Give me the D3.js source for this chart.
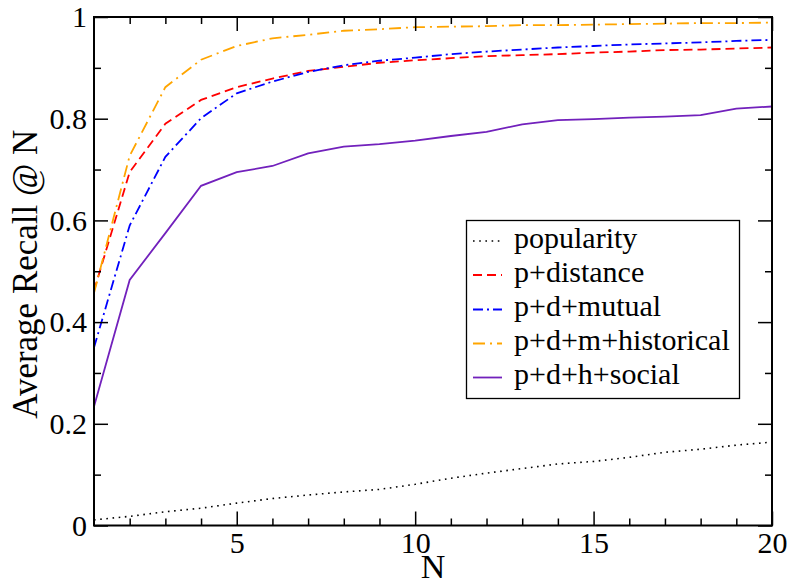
<!DOCTYPE html>
<html>
<head>
<meta charset="utf-8">
<script src="https://cdn.jsdelivr.net/npm/d3@7"></script>
<style>
  html, body { margin: 0; padding: 0; background: #fff; }
  svg { display: block; }
  text { font-family: "Liberation Serif", "Times New Roman", serif; fill: #000; }
</style>
</head>
<body>
<svg id="chart" width="790" height="586"></svg>
<script>
// Recall@N for each recommender variant, N = 1..20
const topN = [1, 2, 3, 4, 5, 6, 7, 8, 9, 10, 11, 12, 13, 14, 15, 16, 17, 18, 19, 20];
const popularity = [0.011, 0.018, 0.027, 0.034, 0.044, 0.053, 0.060, 0.066, 0.071, 0.081,
                    0.093, 0.103, 0.112, 0.121, 0.126, 0.134, 0.144, 0.150, 0.158, 0.164];
const pDistance  = [0.462, 0.695, 0.790, 0.837, 0.862, 0.879, 0.894, 0.902, 0.910, 0.915,
                    0.919, 0.923, 0.925, 0.927, 0.930, 0.932, 0.935, 0.936, 0.938, 0.940];
const pdMutual   = [0.350, 0.590, 0.725, 0.801, 0.850, 0.873, 0.892, 0.905, 0.914, 0.920,
                    0.927, 0.932, 0.936, 0.940, 0.943, 0.946, 0.948, 0.950, 0.953, 0.955];
const pdmHistorical = [0.457, 0.727, 0.862, 0.916, 0.943, 0.958, 0.965, 0.973, 0.976, 0.980,
                       0.981, 0.982, 0.984, 0.984, 0.985, 0.986, 0.987, 0.988, 0.988, 0.989];
const pdhSocial  = [0.234, 0.483, 0.575, 0.668, 0.695, 0.707, 0.732, 0.745, 0.750, 0.757,
                    0.766, 0.774, 0.789, 0.797, 0.799, 0.802, 0.804, 0.807, 0.820, 0.824];

const seriesNames = ["popularity", "p+distance", "p+d+mutual", "p+d+m+historical", "p+d+h+social"];
const xMajorTicks = [5, 10, 15, 20];
const xMinorTicks = [2, 3, 4, 6, 7, 8, 9, 11, 12, 13, 14, 16, 17, 18, 19];
const yMajorTicks = [0, 0.2, 0.4, 0.6, 0.8, 1];
const yMinorTicks = [0.1, 0.3, 0.5, 0.7, 0.9];
const xTitle = "N";
const yTitle = "Average Recall @ N";

// Line styles per series
const styles = [
  { color: "#000000", width: 1.6, dash: "1.6,4.6", cap: "butt" },
  { color: "#ff0000", width: 1.8, dash: "9,5", cap: "butt" },
  { color: "#0000ff", width: 1.8, dash: "10,4,2,4", cap: "butt" },
  { color: "#ffa500", width: 1.8, dash: "12,5,2,5", cap: "butt" },
  { color: "#7221bc", width: 1.8, dash: null, cap: "butt" }
];
const values = [popularity, pDistance, pdMutual, pdmHistorical, pdhSocial];

const plot = { left: 94, right: 772, top: 17, bottom: 525.5 };

const svg = d3.select("#chart");

const x = d3.scaleLinear().domain([1, 20]).range([plot.left, plot.right]);
const y = d3.scaleLinear().domain([0, 1]).range([plot.bottom, plot.top]);

svg.append("defs").append("clipPath").attr("id", "plotClip")
  .append("rect")
  .attr("x", plot.left).attr("y", plot.top)
  .attr("width", plot.right - plot.left).attr("height", plot.bottom - plot.top);

// Series lines
const line = d3.line().x((d, i) => x(topN[i])).y(d => y(d));
const lines = svg.append("g").attr("clip-path", "url(#plotClip)");
values.forEach((vals, k) => {
  const s = styles[k];
  lines.append("path")
    .datum(vals)
    .attr("d", line)
    .attr("fill", "none")
    .attr("stroke", s.color)
    .attr("stroke-width", s.width)
    .attr("stroke-linecap", s.cap)
    .attr("stroke-dasharray", s.dash);
});

// Axes: ticks point inward on all four sides
function styleAxis(g, showLabels) {
  g.attr("font-family", null);
  g.select(".domain").remove();
  g.selectAll(".tick line").attr("stroke", "#000").attr("stroke-width", 1.5);
  if (!showLabels) g.selectAll(".tick text").remove();
  else g.selectAll(".tick text").attr("font-size", 30).attr("font-family", "Liberation Serif");
}

svg.append("g").attr("transform", `translate(0,${plot.bottom})`)
  .call(d3.axisBottom(x).tickValues(xMajorTicks).tickSize(-14).tickPadding(6).tickFormat(d3.format("d")))
  .call(g => styleAxis(g, true));
svg.append("g").attr("transform", `translate(0,${plot.bottom})`)
  .call(d3.axisBottom(x).tickValues(xMinorTicks).tickSize(-7))
  .call(g => styleAxis(g, false));
svg.append("g").attr("transform", `translate(0,${plot.top})`)
  .call(d3.axisTop(x).tickValues(xMajorTicks).tickSize(-14))
  .call(g => styleAxis(g, false));
svg.append("g").attr("transform", `translate(0,${plot.top})`)
  .call(d3.axisTop(x).tickValues(xMinorTicks).tickSize(-7))
  .call(g => styleAxis(g, false));

svg.append("g").attr("transform", `translate(${plot.left},0)`)
  .call(d3.axisLeft(y).tickValues(yMajorTicks).tickSize(-14).tickPadding(7).tickFormat(d3.format("~g")))
  .call(g => styleAxis(g, true));
svg.append("g").attr("transform", `translate(${plot.left},0)`)
  .call(d3.axisLeft(y).tickValues(yMinorTicks).tickSize(-7))
  .call(g => styleAxis(g, false));
svg.append("g").attr("transform", `translate(${plot.right},0)`)
  .call(d3.axisRight(y).tickValues(yMajorTicks).tickSize(-14))
  .call(g => styleAxis(g, false));
svg.append("g").attr("transform", `translate(${plot.right},0)`)
  .call(d3.axisRight(y).tickValues(yMinorTicks).tickSize(-7))
  .call(g => styleAxis(g, false));

// Frame
svg.append("rect")
  .attr("x", plot.left).attr("y", plot.top)
  .attr("width", plot.right - plot.left).attr("height", plot.bottom - plot.top)
  .attr("fill", "none").attr("stroke", "#000").attr("stroke-width", 2);

// Axis titles
svg.append("text")
  .attr("x", (plot.left + plot.right) / 2).attr("y", 578)
  .attr("text-anchor", "middle").attr("font-size", 34)
  .text(xTitle);
svg.append("text")
  .attr("transform", `translate(37,${(plot.top + plot.bottom) / 2 + 3}) rotate(-90)`)
  .attr("text-anchor", "middle").attr("font-size", 35)
  .text(yTitle);

// Legend
const legend = svg.append("g");
legend.append("rect")
  .attr("x", 466.5).attr("y", 220.5).attr("width", 273).attr("height", 178)
  .attr("fill", "#fff").attr("stroke", "#000").attr("stroke-width", 1.3);
const rowBase = [247.5, 281.5, 316, 350, 384];
seriesNames.forEach((name, k) => {
  const s = styles[k];
  legend.append("line")
    .attr("x1", 473).attr("x2", 502)
    .attr("y1", rowBase[k] - 6.5).attr("y2", rowBase[k] - 6.5)
    .attr("stroke", s.color).attr("stroke-width", s.width)
    .attr("stroke-dasharray", s.dash);
  legend.append("text")
    .attr("x", 514).attr("y", rowBase[k])
    .attr("font-size", 30)
    .text(name);
});
</script>
</body>
</html>
